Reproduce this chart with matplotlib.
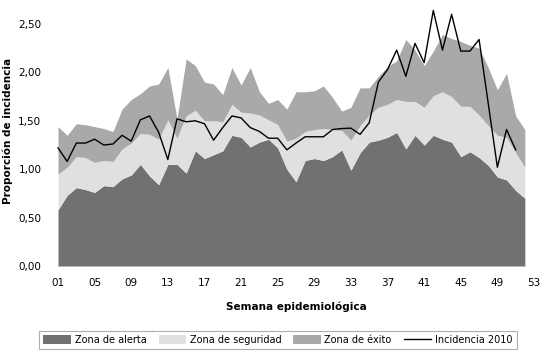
import matplotlib
matplotlib.use("Agg")
import matplotlib.pyplot as plt
from matplotlib.patches import Patch
from matplotlib.lines import Line2D

# semanas epidemiologicas
semanas = list(range(1, 53))

# limites superiores de cada zona (valores acumulados)
alerta = [0.58, 0.73, 0.81, 0.79, 0.76, 0.83, 0.82, 0.90, 0.94, 1.05,
          0.93, 0.84, 1.05, 1.05, 0.96, 1.19, 1.11, 1.15, 1.19, 1.35,
          1.33, 1.23, 1.28, 1.31, 1.22, 1.00, 0.87, 1.09, 1.11, 1.09,
          1.13, 1.20, 0.99, 1.17, 1.28, 1.30, 1.33, 1.38, 1.21, 1.35,
          1.25, 1.35, 1.31, 1.28, 1.13, 1.18, 1.12, 1.04, 0.92, 0.89,
          0.78, 0.70]
seguridad = [0.95, 1.02, 1.13, 1.12, 1.07, 1.09, 1.08, 1.21, 1.27, 1.37,
             1.36, 1.31, 1.51, 1.32, 1.55, 1.61, 1.50, 1.50, 1.49, 1.67,
             1.59, 1.58, 1.56, 1.51, 1.46, 1.29, 1.32, 1.39, 1.41, 1.42,
             1.41, 1.40, 1.30, 1.45, 1.56, 1.64, 1.67, 1.72, 1.70, 1.70,
             1.64, 1.76, 1.80, 1.75, 1.65, 1.65, 1.56, 1.45, 1.35, 1.33,
             1.17, 1.02]
exito = [1.44, 1.35, 1.47, 1.46, 1.44, 1.42, 1.39, 1.62, 1.72, 1.78,
         1.86, 1.88, 2.05, 1.52, 2.14, 2.07, 1.90, 1.88, 1.77, 2.05,
         1.87, 2.05, 1.80, 1.68, 1.72, 1.62, 1.80, 1.80, 1.81, 1.86,
         1.74, 1.60, 1.64, 1.84, 1.84, 1.96, 2.06, 2.12, 2.34, 2.23,
         2.07, 2.22, 2.39, 2.35, 2.32, 2.28, 2.25, 2.05, 1.82, 1.99,
         1.55, 1.41]

# incidencia 2010 (semanas 1-51)
semanas_2010 = list(range(1, 52))
incidencia = [1.22, 1.08, 1.27, 1.27, 1.31, 1.25, 1.26, 1.35, 1.29, 1.51,
              1.55, 1.38, 1.10, 1.52, 1.49, 1.50, 1.47, 1.30, 1.43, 1.55,
              1.53, 1.43, 1.39, 1.32, 1.32, 1.20, 1.27, 1.335, 1.335, 1.335,
              1.41, 1.42, 1.424, 1.36, 1.48, 1.90, 2.03, 2.23, 1.96, 2.30,
              2.10, 2.64, 2.23, 2.60, 2.22, 2.22, 2.34, 1.68, 1.02, 1.41,
              1.20]

ticks_x = list(range(1, 54, 4))
ticks_y = [0, 0.5, 1.0, 1.5, 2.0, 2.5]

c_alerta = "#717173"
c_seg = "#e0e0e2"
c_exito = "#a9a9ac"

plt.rcParams["font.family"] = "DejaVu Sans"

fig = plt.figure(figsize=(5.47, 3.57), dpi=100)
ax = fig.add_axes([58 / 547, 1 - 266 / 357, (534 - 58) / 547, (266 - 24) / 357])

ax.fill_between(semanas, 0, alerta, color=c_alerta, lw=0)
ax.fill_between(semanas, alerta, seguridad, color=c_seg, lw=0)
ax.fill_between(semanas, seguridad, exito, color=c_exito, lw=0)
ax.plot(semanas_2010, incidencia, color="black", lw=1.0, clip_on=False)

ax.set_xlim(1, 53)
ax.set_ylim(0, 2.5)
ax.set_xticks(ticks_x)
ax.set_xticklabels(["%02d" % t for t in ticks_x], fontsize=7.5)
ax.set_yticks(ticks_y)
ax.set_yticklabels([("%.2f" % t).replace(".", ",") for t in ticks_y], fontsize=7.5)
ax.tick_params(length=0)
ax.tick_params(axis="x", pad=9)
ax.tick_params(axis="y", pad=12)
for s in ax.spines.values():
    s.set_visible(False)

ax.set_xlabel("Semana epidemiológica", fontsize=7.5, fontweight="bold", labelpad=9)
ax.set_ylabel("Proporción de incidencia", fontsize=7.5, fontweight="bold")
ax.yaxis.set_label_coords(-0.095, 0.56)

handles = [Patch(facecolor=c_alerta), Patch(facecolor=c_seg), Patch(facecolor=c_exito),
           Line2D([], [], color="black", lw=1)]
labels = ["Zona de alerta", "Zona de seguridad", "Zona de éxito", "Incidencia 2010"]
leg = fig.legend(handles, labels, loc="center", bbox_to_anchor=(278 / 547, 1 - 340 / 357),
                 ncol=4, fontsize=7, frameon=True, fancybox=False,
                 handlelength=2.8, handleheight=1.1, handletextpad=0.4,
                 columnspacing=1.25, borderpad=0.45)
leg.get_frame().set_edgecolor("#9a9a9a")
leg.get_frame().set_linewidth(0.8)

fig.savefig("out.png", dpi=100)
